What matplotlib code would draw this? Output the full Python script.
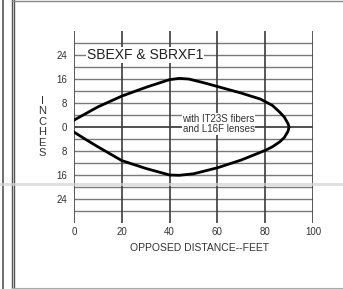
import matplotlib
matplotlib.use("Agg")
import matplotlib.pyplot as plt
from matplotlib.lines import Line2D
import numpy as np

plt.rcParams['font.family'] = ['Liberation Sans', 'DejaVu Sans']

# Data (distance in feet, width in inches)
dist = [0, 5, 10, 20, 30, 40, 44, 48, 55, 60, 70, 78, 83, 86, 88, 89.5, 90,
        89.5, 88, 86, 83, 80, 70, 60, 50, 44, 40, 30, 20, 10, 5, 0]
width = [2.3, 4.5, 6.7, 10.3, 13.2, 15.8, 16.2, 16.0, 14.6, 13.5, 11.3, 9.3, 7.2, 5.0, 3.3, 1.2, 0,
         -1.5, -3.5, -5.0, -6.6, -7.8, -11.0, -13.6, -15.6, -16.1, -16.0, -13.8, -11.2, -6.6, -4.2, -1.7]
xticks = [0, 20, 40, 60, 80, 100]
yticks = [24, 16, 8, 0, -8, -16, -24]
ytick_labels = ["24", "16", "8", "0", "8", "16", "24"]
hgrid = list(range(-28, 29, 4))
title = "SBEXF & SBRXF1"
note = "with IT23S fibers\nand L16F lenses"
xlabel = "OPPOSED DISTANCE--FEET"
ylabel = "I\nN\nC\nH\nE\nS"

W, H = 343, 289
fig = plt.figure(figsize=(W / 100, H / 100), dpi=100)
fig.patch.set_facecolor("white")

L, R, T, B = 74, 313, 31, 223
ax = fig.add_axes([L / W, 1 - B / H, (R - L) / W, (B - T) / H])
ax.set_xlim(0, 100)
ax.set_ylim(-32, 32)
for s in ax.spines.values():
    s.set_visible(False)

# grid
for y in hgrid:
    if y == 0:
        ax.plot([0, 100], [y, y], color="#505050", lw=1.4, zorder=1, solid_capstyle="butt")
    else:
        ax.plot([0, 100], [y, y], color="#7a7a7a", lw=1.0, zorder=1, solid_capstyle="butt")
for x in xticks:
    ax.plot([x, x], [-32, 32], color="#3c3c3c", lw=1.2, zorder=2, solid_capstyle="butt")

# curve
ax.plot(dist, width, color="black", lw=2.0, zorder=5, solid_joinstyle="round")

# ticks
ax.set_xticks(xticks)
ax.set_xticklabels([str(v) for v in xticks], fontsize=7, color="#333333")
ax.set_yticks(yticks)
ax.set_yticklabels(ytick_labels, fontsize=7, color="#333333")
ax.tick_params(length=0, pad=3)
ax.tick_params(axis="y", pad=5)

# texts
ax.text(5.5, 24, title, fontsize=10, color="#222222", va="center", ha="left", zorder=6,
        bbox=dict(facecolor="white", edgecolor="none", pad=0.5))
ax.text(60.5, 1.0, note, fontsize=7, color="#333333", va="center", ha="center", zorder=6,
        linespacing=1.05, bbox=dict(facecolor="white", edgecolor="none", pad=0.3))

fig.text(199 / W, 1 - 248 / H, xlabel, fontsize=7.5, color="#333333", ha="center", va="center")
fig.text(42 / W, 1 - 127 / H, ylabel, fontsize=8, color="#333333", ha="center", va="center",
         linespacing=1.05)

# page frame lines and scan smear
def fline(x0, y0, x1, y1, **kw):
    fig.add_artist(Line2D([x0 / W, x1 / W], [1 - y0 / H, 1 - y1 / H], transform=fig.transFigure, **kw))

fline(3.5, 0, 3.5, H, color="#555555", lw=1.2)
fline(11.5, 0, 11.5, H, color="#555555", lw=1.0)
fline(14, 0, 14, H, color="#555555", lw=1.0)
fline(12, 0.8, W, 0.8, color="#888888", lw=1.0)
fline(12, 287.5, W, 287.5, color="#aaaaaa", lw=0.8)
fline(0, 184, W, 184, color="#d4d4d4", lw=2.2, alpha=0.7)

fig.savefig("out.png", dpi=100, facecolor="white")
